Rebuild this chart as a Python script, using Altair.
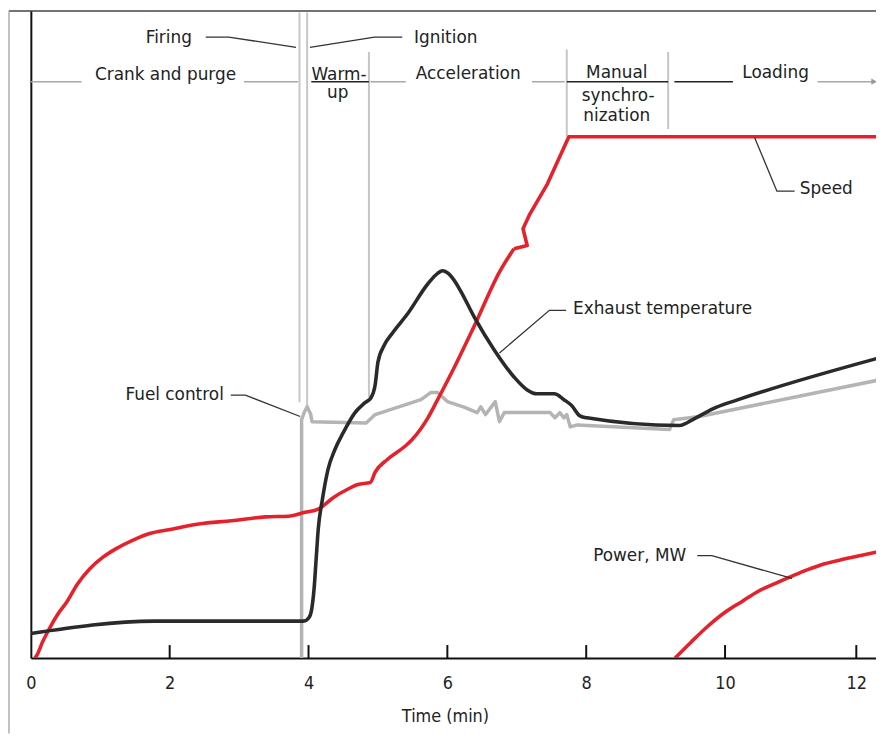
import altair as alt
import pandas as pd

# ---------------- data ----------------
# Speed (red)
speed_t = [0.06, 0.09, 0.17, 0.27, 0.39, 0.52, 0.67, 0.85, 1.03, 1.23, 1.49, 1.70, 2.03, 2.42,
           2.89, 3.38, 3.71, 3.95, 4.14, 4.36, 4.57, 4.71, 4.89, 4.96, 5.14, 5.39, 5.49, 5.61,
           5.72, 5.85, 6.11, 6.38, 6.76, 6.96, 7.15, 7.09, 7.19, 7.44, 7.75, 12.33]
speed_v = [0.0, 0.5, 2.5, 4.6, 6.8, 8.7, 11.4, 13.8, 15.5, 16.9, 18.3, 19.2, 19.9, 20.7,
           21.2, 21.8, 21.9, 22.5, 23.0, 24.8, 26.1, 26.8, 27.1, 28.7, 30.7, 32.7, 33.7, 35.3,
           37.1, 39.7, 45.1, 51.1, 59.8, 63.2, 63.7, 66.3, 68.6, 73.2, 80.5, 80.5]
SMOOTH_END = 34  # points before this index form the smooth rising part

# Exhaust temperature (black)
exh_t = [0.00, 1.78, 3.93, 4.01, 4.04, 4.08, 4.11, 4.14, 4.20, 4.28, 4.38, 4.50, 4.67, 4.81,
         4.90, 4.96, 5.00, 5.09, 5.21, 5.43, 5.72, 5.86, 5.93, 6.00, 6.10, 6.19, 6.39, 6.68,
         6.96, 7.15, 7.29, 7.54, 7.68, 7.79, 7.91, 8.01, 9.34, 9.58, 9.87, 10.20, 12.33]
exh_v = [3.8, 5.7, 5.7, 6.3, 7.2, 10.7, 15.3, 19.9, 24.5, 29.1, 32.2, 34.8, 37.9, 39.4,
         40.2, 42.2, 45.7, 48.3, 50.2, 53.2, 57.8, 59.4, 59.8, 59.5, 58.3, 56.7, 52.6, 47.5,
         43.4, 41.4, 40.8, 40.8, 39.9, 39.0, 37.4, 37.1, 35.9, 37.1, 38.7, 39.9, 46.3]

# Fuel control (grey); zero along the axis until firing
fuel_t = [3.90, 3.90, 3.94, 3.98, 4.03, 4.05, 4.83, 4.96, 5.62, 5.76, 5.86, 6.00, 6.25,
          6.43, 6.48, 6.55, 6.69, 6.75, 6.82, 7.48, 7.55, 7.62, 7.68, 7.72, 7.77, 7.87, 9.20,
          9.26, 9.63, 12.33]
fuel_v = [0.0, 36.8, 38.0, 38.8, 37.7, 36.5, 36.3, 37.6, 39.9, 41.0, 41.0, 39.6, 38.7,
          37.9, 38.8, 37.6, 39.6, 36.5, 37.9, 37.9, 37.1, 37.9, 37.1, 37.6, 35.7, 36.0, 35.3,
          36.8, 37.3, 42.9]

# Power, MW (red)
power_t = [9.28, 9.51, 9.76, 10.00, 10.26, 10.50, 10.76, 11.02, 11.26, 11.52, 11.77, 12.05, 12.33]
power_v = [0.0, 2.45, 4.98, 7.06, 8.74, 10.28, 11.5, 12.65, 13.65, 14.57, 15.18, 15.8, 16.4]

# axis
tick_values = [0, 2, 4, 6, 8, 10, 12]
inner_ticks = [2, 4, 6, 8, 10, 12]

# event / phase separator lines (time, bottom, top)
vline_t = [3.87, 3.98, 4.87, 7.72, 9.18]
vline_lo = [39.5, 38.8, 40.3, 80.5, 81.7]
vline_hi = [99.7, 99.7, 93.6, 94.0, 93.6]

# phase row dashes (start, end)
grey_dash_start = [0.00, 3.07, 4.89, 7.22, 11.41]
grey_dash_end = [0.73, 3.85, 5.40, 7.69, 12.27]
dark_dash_start = [4.04, 7.72, 9.27]
dark_dash_end = [4.87, 9.18, 10.12]
phase_row_v = 89.0

# text labels
center_text = ["Crank and purge", "Warm-", "up", "Acceleration", "Manual", "synchro-",
               "nization", "Loading"]
center_t = [1.94, 4.44, 4.42, 6.30, 8.44, 8.46, 8.44, 10.77]
center_v = [89.3, 89.3, 86.5, 89.4, 89.6, 86.0, 83.0, 89.6]

left_text = ["Ignition", "Exhaust temperature", "Speed", "Power, MW"]
left_t = [5.52, 7.81, 11.14, 8.10]
left_v = [95.0, 53.1, 71.7, 15.0]

right_text = ["Firing", "Fuel control"]
right_t = [2.32, 2.78]
right_v = [95.0, 39.9]

# leader lines
leader_id = ["Firing"] * 3 + ["Ignition"] * 3 + ["Fuel"] * 3 + ["Speed"] * 3 + \
            ["Exhaust"] * 3 + ["Power"] * 3
leader_t = [2.52, 2.85, 3.82, 4.02, 4.95, 5.35, 2.88, 3.09, 3.88,
            10.45, 10.79, 11.06, 6.75, 7.47, 7.71, 9.60, 9.81, 11.02]
leader_v = [95.9, 95.9, 94.3, 94.3, 95.9, 95.9, 40.6, 40.6, 37.3,
            80.4, 72.1, 72.1, 47.1, 53.7, 53.7, 15.8, 15.8, 12.3]

# ---------------- chart ----------------
W, H = 851, 652
FONT = "DejaVu Sans"
COND = "'DejaVu Sans Condensed', 'Liberation Sans Narrow', 'DejaVu Sans'"
RED = "#e5222b"
BLACK = "#2a2a2a"
GREY = "#b2b5b2"

xscale = alt.Scale(domain=[0, 10, 12.30], range=[0, 699, W], nice=False, zero=False)
yscale = alt.Scale(domain=[0, 100], nice=False, zero=False)

xaxis = alt.Axis(values=tick_values, ticks=False, grid=False, domainColor="#111",
                 domainWidth=2, labelFont=COND, labelFontSize=18, labelColor="#222",
                 labelPadding=17, labelFlush=False, title="Time (min)", titleFont=COND,
                 titleFontSize=18, titleFontWeight="normal", titleColor="#222",
                 titleX=417, titleY=59, titleBaseline="middle", format="d")
yaxis = alt.Axis(labels=False, ticks=False, grid=False, title=None, domainColor="#111",
                 domainWidth=2)


def X(field="t"):
    return alt.X(f"{field}:Q", scale=xscale, axis=xaxis)


def Y(field="v"):
    return alt.Y(f"{field}:Q", scale=yscale, axis=yaxis)


def series(ts, vs):
    return pd.DataFrame({"t": ts, "v": vs, "i": list(range(len(ts)))})


# frame lines of the figure
frame_top = alt.Chart(pd.DataFrame({"a": [0]})).mark_rule(color="#444", strokeWidth=1.5).encode(
    x=alt.value(-22), x2=alt.value(W), y=alt.value(0.5))
frame_left = alt.Chart(pd.DataFrame({"a": [0]})).mark_rule(color="#999", strokeWidth=1.2).encode(
    x=alt.value(-22), y=alt.value(0), y2=alt.value(H + 76))

vlines = alt.Chart(pd.DataFrame({"t": vline_t, "lo": vline_lo, "hi": vline_hi})).mark_rule(
    color="#c6c6c6", strokeWidth=2).encode(x=X(), y=Y("lo"), y2="hi:Q")

grey_dash = alt.Chart(pd.DataFrame({"t": grey_dash_start, "t2": grey_dash_end,
                                    "v": [phase_row_v] * len(grey_dash_start)})).mark_rule(
    color="#a8a8a8", strokeWidth=1.6).encode(x=X(), x2="t2:Q", y=Y())
dark_dash = alt.Chart(pd.DataFrame({"t": dark_dash_start, "t2": dark_dash_end,
                                    "v": [phase_row_v] * len(dark_dash_start)})).mark_rule(
    color="#222", strokeWidth=1.6).encode(x=X(), x2="t2:Q", y=Y())
arrow = alt.Chart(pd.DataFrame({"t": [grey_dash_end[-1]], "v": [phase_row_v]})).mark_point(
    shape="triangle-right", filled=True, color="#999", size=40, opacity=1).encode(x=X(), y=Y())

ticks = alt.Chart(pd.DataFrame({"t": inner_ticks, "lo": [0] * 6, "hi": [2.0] * 6})).mark_rule(
    color="#111", strokeWidth=2).encode(x=X(), y=Y("lo"), y2="hi:Q")

fuel = alt.Chart(series(fuel_t, fuel_v)).mark_line(
    color=GREY, strokeWidth=3.5, clip=True, strokeJoin="round").encode(
    x=X(), y=Y(), order="i:Q")
speed_a = alt.Chart(series(speed_t[:SMOOTH_END], speed_v[:SMOOTH_END])).mark_line(
    color=RED, strokeWidth=3.6, clip=True, interpolate="monotone").encode(
    x=X(), y=Y(), order="i:Q")
speed_b = alt.Chart(series(speed_t[SMOOTH_END - 1:], speed_v[SMOOTH_END - 1:])).mark_line(
    color=RED, strokeWidth=3.6, clip=True, strokeJoin="round").encode(
    x=X(), y=Y(), order="i:Q")
power = alt.Chart(series(power_t, power_v)).mark_line(
    color=RED, strokeWidth=3.6, clip=True, interpolate="monotone").encode(
    x=X(), y=Y(), order="i:Q")
exhaust = alt.Chart(series(exh_t, exh_v)).mark_line(
    color=BLACK, strokeWidth=3.6, clip=True, interpolate="monotone", strokeJoin="round").encode(
    x=X(), y=Y(), order="i:Q")

leaders = alt.Chart(pd.DataFrame({"g": leader_id, "t": leader_t, "v": leader_v,
                                  "i": list(range(len(leader_t)))})).mark_line(
    color="#333", strokeWidth=1.3).encode(x=X(), y=Y(), detail="g:N", order="i:Q")

txt_c = alt.Chart(pd.DataFrame({"t": center_t, "v": center_v, "s": center_text})).mark_text(
    font=FONT, fontSize=17, color="#222", align="center", baseline="alphabetic").encode(
    x=X(), y=Y(), text="s:N")
txt_l = alt.Chart(pd.DataFrame({"t": left_t, "v": left_v, "s": left_text})).mark_text(
    font=FONT, fontSize=17, color="#222", align="left", baseline="alphabetic").encode(
    x=X(), y=Y(), text="s:N")
txt_r = alt.Chart(pd.DataFrame({"t": right_t, "v": right_v, "s": right_text})).mark_text(
    font=FONT, fontSize=17, color="#222", align="right", baseline="alphabetic").encode(
    x=X(), y=Y(), text="s:N")

chart = alt.layer(
    vlines, grey_dash, dark_dash, arrow, ticks, fuel, speed_a, speed_b, power, exhaust, leaders,
    txt_c, txt_l, txt_r, frame_top, frame_left
).properties(
    width=W, height=H,
    padding={"left": 23, "top": 0, "right": 0, "bottom": 76},
    autosize=alt.AutoSizeParams(type="none"),
    background="white",
).configure_view(stroke=None)

chart.save("out.html", embed_options={"renderer": "svg", "actions": False})
